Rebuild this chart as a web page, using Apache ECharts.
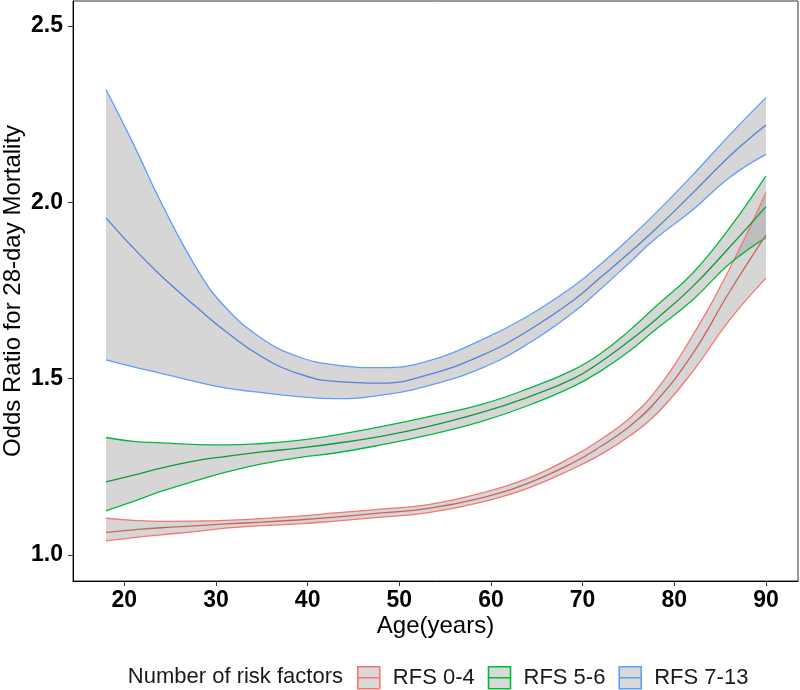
<!DOCTYPE html>
<html>
<head>
<meta charset="utf-8">
<script src="https://cdn.jsdelivr.net/npm/echarts@6/dist/echarts.min.js"></script>
<style>
html,body{margin:0;padding:0;background:#fff;}
#chart{width:800px;height:690px;}
</style>
</head>
<body>
<div id="chart"></div>
<script>
// Age grid (years)
const ages = [18,21,24,28,31,35,39,43,48,53,59,64,69,72,75,78,82,86,90];

// RFS 0-4
const rfs04Mean  = [1.064,1.071,1.077,1.083,1.088,1.093,1.099,1.107,1.119,1.131,1.162,1.203,1.262,1.308,1.362,1.435,1.570,1.745,1.907];
const rfs04Upper = [1.104,1.098,1.095,1.096,1.098,1.103,1.110,1.119,1.130,1.142,1.176,1.217,1.280,1.328,1.385,1.466,1.622,1.810,2.028];
const rfs04Lower = [1.040,1.049,1.057,1.067,1.076,1.083,1.088,1.096,1.107,1.119,1.150,1.189,1.245,1.285,1.335,1.398,1.520,1.665,1.785];

// RFS 5-6
const rfs56Mean  = [1.207,1.226,1.246,1.268,1.279,1.292,1.303,1.316,1.336,1.363,1.404,1.447,1.500,1.548,1.605,1.668,1.761,1.872,1.988];
const rfs56Upper = [1.333,1.322,1.318,1.313,1.312,1.316,1.325,1.340,1.364,1.391,1.427,1.471,1.525,1.572,1.634,1.705,1.799,1.926,2.075];
const rfs56Lower = [1.125,1.152,1.180,1.212,1.234,1.258,1.276,1.289,1.312,1.339,1.379,1.423,1.478,1.522,1.576,1.640,1.723,1.825,1.900];

// RFS 7-13
const rfs713Mean  = [1.956,1.870,1.792,1.700,1.635,1.562,1.514,1.492,1.487,1.510,1.566,1.635,1.722,1.788,1.855,1.925,2.026,2.130,2.219];
const rfs713Upper = [2.320,2.165,2.000,1.808,1.703,1.614,1.562,1.539,1.531,1.549,1.610,1.677,1.762,1.825,1.895,1.970,2.077,2.190,2.297];
const rfs713Lower = [1.553,1.533,1.515,1.490,1.474,1.460,1.449,1.443,1.453,1.479,1.530,1.598,1.688,1.755,1.826,1.898,1.978,2.070,2.136];

// Axis ticks
const xTicks = [20,30,40,50,60,70,80,90];
const yTicks = [1.0,1.5,2.0,2.5];

const groupNames = ['RFS 0-4','RFS 5-6','RFS 7-13'];
const lineColors = ['#F8766D','#00BA38','#619CFF'];
const meanColors = ['#c8645e','#0e9a36','#5282d8'];
const groups = [
  {mean: rfs04Mean, upper: rfs04Upper, lower: rfs04Lower},
  {mean: rfs56Mean, upper: rfs56Upper, lower: rfs56Lower},
  {mean: rfs713Mean, upper: rfs713Upper, lower: rfs713Lower}
];

const FONT = '"Liberation Sans", Arial, Helvetica, sans-serif';
const pairs = (ys) => ages.map((a, i) => [a, ys[i]]);
// value first, age second, so that stacking happens on the y dimension
const swapped = (ys) => ages.map((a, i) => [ys[i], a]);
const SMOOTH = 0.45;

const series = [];
groups.forEach((g, k) => {
  const name = groupNames[k];
  series.push({
    name: name, type: 'line', stack: 'band' + k,
    data: swapped(g.lower), encode: {x: 1, y: 0},
    smooth: SMOOTH, showSymbol: false, silent: true,
    lineStyle: {opacity: 0, width: 0}, z: 1
  });
  series.push({
    name: name, type: 'line', stack: 'band' + k,
    data: swapped(g.upper.map((u, i) => u - g.lower[i])), encode: {x: 1, y: 0},
    smooth: SMOOTH, showSymbol: false, silent: true,
    lineStyle: {opacity: 0, width: 0},
    areaStyle: {color: 'rgba(153,153,153,0.4)', opacity: 1}, z: 1
  });
});
groups.forEach((g, k) => {
  const name = groupNames[k];
  series.push({
    name: name, type: 'line', data: pairs(g.upper), smooth: SMOOTH, showSymbol: false,
    lineStyle: {color: lineColors[k], width: 1.3}, z: 3
  });
  series.push({
    name: name, type: 'line', data: pairs(g.lower), smooth: SMOOTH, showSymbol: false,
    lineStyle: {color: lineColors[k], width: 1.3}, z: 3
  });
  series.push({
    name: name, type: 'line', data: pairs(g.mean), smooth: SMOOTH, showSymbol: false,
    lineStyle: {color: meanColors[k], width: 1.3}, z: 4
  });
});

const chart = echarts.init(document.getElementById('chart'), null, {renderer: 'canvas'});
chart.setOption({
  animation: false,
  backgroundColor: '#ffffff',
  grid: {
    left: 73, right: 2, top: 1, bottom: 109,
    containLabel: false, outerBoundsMode: 'none',
    show: true, borderColor: '#333333', borderWidth: 1, backgroundColor: '#ffffff'
  },
  xAxis: {
    type: 'value', min: 14.4, max: 93.5,
    name: 'Age(years)', nameLocation: 'middle', nameGap: 33, nameMoveOverlap: false,
    nameTextStyle: {fontFamily: FONT, fontSize: 24, color: '#000'},
    axisLine: {show: true, onZero: false, lineStyle: {color: '#000', width: 1}},
    axisTick: {show: true, length: 5, lineStyle: {color: '#333'}, customValues: xTicks},
    axisLabel: {customValues: xTicks, fontFamily: FONT, fontSize: 23, fontWeight: 'bold', color: '#000', margin: 8},
    splitLine: {show: false}
  },
  yAxis: {
    type: 'value', min: 0.926, max: 2.571,
    name: 'Odds Ratio for 28-day Mortality', nameLocation: 'middle', nameGap: 48, nameMoveOverlap: false,
    nameTextStyle: {fontFamily: FONT, fontSize: 24, color: '#000'},
    axisLine: {show: true, onZero: false, lineStyle: {color: '#000', width: 1}},
    axisTick: {show: true, length: 5, lineStyle: {color: '#333'}, customValues: yTicks},
    axisLabel: {customValues: yTicks, fontFamily: FONT, fontSize: 23, fontWeight: 'bold', color: '#000', margin: 10,
      formatter: (v) => Number(v).toFixed(1)},
    splitLine: {show: false}
  },
  legend: {
    left: 357, top: 666, orient: 'horizontal', padding: 0,
    itemWidth: 22, itemHeight: 22, itemGap: 13,
    selectedMode: false,
    textStyle: {fontFamily: FONT, fontSize: 22, color: '#1a1a1a', padding: [0, 0, 0, 8]},
    data: groupNames.map((n, k) => ({
      name: n,
      icon: 'path://M0,0L22,0L22,22L0,22Z M0,11L22,11',
      itemStyle: {color: '#d9d9d9', borderColor: lineColors[k], borderWidth: 1.6}
    }))
  },
  graphic: [{
    type: 'text', z: 10,
    style: {
      text: 'Number of risk factors', x: 343, y: 677,
      textAlign: 'right', textVerticalAlign: 'middle',
      font: '22px ' + FONT, fill: '#1a1a1a'
    }
  }],
  series: series
});
</script>
</body>
</html>
